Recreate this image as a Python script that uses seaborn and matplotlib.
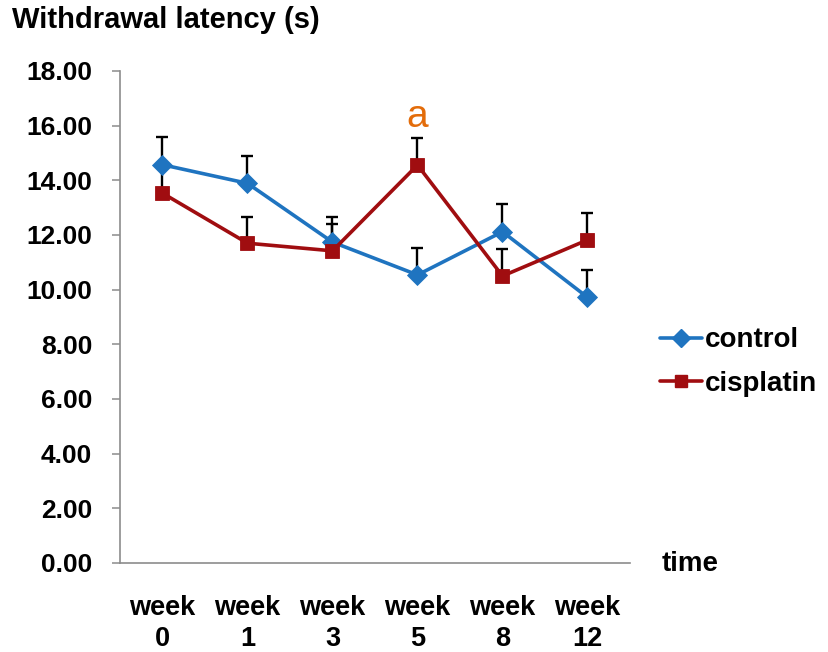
import numpy as np
import pandas as pd
import matplotlib
matplotlib.use("Agg")
import matplotlib.pyplot as plt
import seaborn as sns

# Withdrawal latency (s) per time point, mean and upper SEM
weeks = ["week\n0", "week\n1", "week\n3", "week\n5", "week\n8", "week\n12"]
control_mean = [14.57, 13.89, 11.74, 10.54, 12.12, 9.72]
control_err = [1.02, 1.01, 0.93, 1.00, 1.00, 1.00]
cisplatin_mean = [13.53, 11.70, 11.42, 14.56, 10.50, 11.82]
cisplatin_err = [1.00, 0.97, 0.97, 0.98, 0.98, 1.00]
groups = ["control", "cisplatin"]
y_ticks = [0, 2, 4, 6, 8, 10, 12, 14, 16, 18]

colors = {"control": "#1F74C0", "cisplatin": "#A00D10"}
markers = {"control": "D", "cisplatin": "s"}

sns.set_style("white")
plt.rcParams["font.family"] = ["Liberation Sans", "DejaVu Sans"]
plt.rcParams["text.color"] = "black"

df = pd.DataFrame({
    "pos": list(range(len(weeks))) * 2,
    "latency": control_mean + cisplatin_mean,
    "err": control_err + cisplatin_err,
    "group": ["control"] * len(weeks) + ["cisplatin"] * len(weeks),
})
df["upper"] = df["latency"] + df["err"]

fig = plt.figure(figsize=(8.29, 6.52), dpi=100)
ax = fig.add_axes([120 / 829, 1 - 563 / 652, 510 / 829, 492 / 652])

# one-sided (upper) error bars drawn beneath the lines: stem plus top cap
ax.errorbar(df.pos, df.latency, yerr=[np.zeros(len(df)), df.err],
            fmt="none", ecolor="black", elinewidth=1.7, capsize=0, zorder=1)
ax.plot(df.pos, df.upper, linestyle="none", marker="_", markersize=9,
        markeredgewidth=1.7, color="black", zorder=1)

n_before = len(ax.lines)
sns.lineplot(data=df, x="pos", y="latency", hue="group", style="group",
             palette=colors, markers=markers, dashes=False, linewidth=2.6,
             markersize=10, markeredgewidth=0.6, ax=ax, legend=False,
             zorder=3)
for line in ax.lines[n_before:]:
    line.set_markeredgecolor(line.get_color())

ax.set_xlim(-0.5, len(weeks) - 0.5)
ax.set_ylim(0, 18)
ax.set_yticks(y_ticks)
ax.set_yticklabels([f"{v:.2f}" for v in y_ticks], fontsize=19,
                   fontweight="bold")
ax.set_xticks(np.arange(len(weeks)))
ax.set_xticklabels(weeks, fontsize=19.5, fontweight="bold", linespacing=1.25)
ax.set_xticks(np.arange(-0.5, len(weeks)), minor=True)
ax.tick_params(axis="x", which="major", length=0, pad=23, labelcolor="black")
ax.tick_params(axis="x", which="minor", length=7, width=1.1,
               color="#8C8C8C", direction="out")
ax.tick_params(axis="y", length=6, width=1.1, color="#8C8C8C",
               direction="out", pad=14, left=True, labelcolor="black")
ax.set_xlabel("")
ax.set_ylabel("")
for side in ["top", "right"]:
    ax.spines[side].set_visible(False)
for side in ["left", "bottom"]:
    ax.spines[side].set_color("#8C8C8C")
    ax.spines[side].set_linewidth(1.2)

# significance mark above the week 5 cisplatin point
ax.text(3, cisplatin_mean[3] + 1.75, "a", color="#E36C0A", fontsize=28,
        ha="center", va="center")

fig.text(12 / 829, 1 - 20 / 652, "Withdrawal latency (s)", fontsize=21,
         fontweight="bold", ha="left", va="center")
fig.text(662 / 829, 1 - 564 / 652, "time", fontsize=20,
         fontweight="bold", ha="left", va="center")

handles = [plt.Line2D([], [], color=colors[g], marker=markers[g],
                      markersize=9, linewidth=2.6,
                      markeredgecolor=colors[g]) for g in groups]
leg = fig.legend(handles, groups, loc="center left",
                 bbox_to_anchor=(660 / 829, 1 - 362 / 652), frameon=False,
                 prop={"size": 20, "weight": "bold"}, handlelength=1.5,
                 handletextpad=0.12, labelspacing=0.62, borderaxespad=0,
                 borderpad=0)

fig.savefig("out.png", dpi=100, facecolor="white")
